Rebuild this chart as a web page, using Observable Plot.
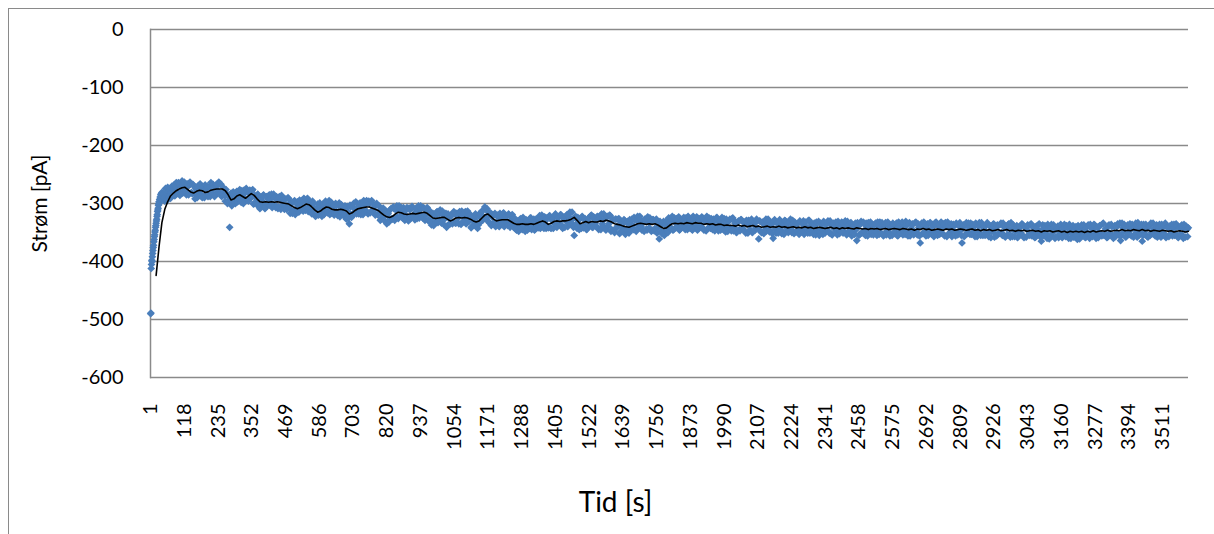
<!DOCTYPE html>
<html>
<head>
<meta charset="utf-8">
<script src="https://cdn.jsdelivr.net/npm/d3@7"></script>
<script src="https://cdn.jsdelivr.net/npm/@observablehq/plot@0.6"></script>
<style>
  html, body { margin: 0; padding: 0; background: #fff; overflow: hidden; }
  #wrap { position: relative; width: 1214px; height: 534px; }
  #border { position: absolute; left: 8px; top: 8px; width: 1400px; height: 700px;
            border-left: 1.5px solid #8a8a8a; border-top: 1.5px solid #8a8a8a; pointer-events: none; }
  #chart { position: absolute; left: 0; top: 0; }
  #chart g[aria-label="y-axis label"] { font-size: 21px; }
</style>
</head>
<body>
<div id="wrap">
  <div id="chart"></div>
  <div id="border"></div>
</div>
<script>
// Category labels on the time axis (seconds) and the current gridlines (pA)
const xTicks = [1, 118, 235, 352, 469, 586, 703, 820, 937, 1054, 1171, 1288, 1405, 1522, 1639,
  1756, 1873, 1990, 2107, 2224, 2341, 2458, 2575, 2692, 2809, 2926, 3043, 3160, 3277, 3394, 3511];
const yTicks = [0, -100, -200, -300, -400, -500, -600];
const xTitle = "Tid [s]";
const yTitle = "Strøm [pA]";

// Measured current, 1 s samples for t = 1 … 40 s (switch-on transient)
const rampCurrent = [
  -490, -489, -412, -405, -398, -400, -392, -386, -381, -376,
  -372, -366, -362, -357, -354, -349, -346, -341, -338, -334,
  -330, -327, -322, -319, -314, -311, -308, -303, -301, -297,
  -299, -293, -296, -289, -292, -285, -291, -283, -288, -281
];

// Measured current, 5 s samples from t = 45 s onward (one row = 100 s)
const current = [
  -283,-296,-282,-272,-287,-291,-270,-276,-287,-264,-280,-266,-282,-261,-275,-267,-285,-271,-283,-267,
  -283,-269,-292,-276,-270,-286,-276,-290,-271,-268,-283,-288,-271,-264,-282,-273,-286,-267,-279,-266,
  -267,-284,-279,-296,-283,-296,-341,-282,-299,-284,-300,-279,-291,-276,-298,-286,-277,-293,-279,-296,
  -277,-290,-276,-300,-290,-302,-286,-309,-292,-287,-299,-307,-288,-293,-303,-284,-301,-290,-307,-293,
  -306,-292,-286,-302,-310,-292,-303,-292,-317,-300,-313,-295,-309,-297,-315,-302,-295,-313,-296,-306,
  -291,-307,-301,-318,-300,-309,-321,-301,-319,-308,-322,-301,-312,-300,-316,-295,-309,-317,-304,-315,
  -304,-321,-299,-314,-307,-321,-304,-327,-314,-335,-306,-319,-300,-314,-318,-301,-305,-319,-301,-295,
  -311,-295,-318,-300,-314,-299,-307,-320,-300,-319,-312,-327,-313,-323,-312,-335,-317,-327,-309,-327,
  -309,-323,-304,-326,-312,-307,-325,-311,-320,-307,-330,-311,-323,-307,-325,-315,-326,-304,-319,-309,
  -325,-309,-320,-307,-329,-319,-337,-317,-325,-333,-314,-330,-311,-334,-319,-327,-317,-338,-325,-335,
  -321,-332,-316,-334,-322,-335,-317,-313,-331,-321,-335,-313,-331,-319,-340,-326,-333,-322,-343,-322,
  -332,-313,-323,-306,-327,-314,-333,-316,-323,-335,-317,-333,-320,-340,-326,-336,-316,-330,-322,-338,
  -320,-335,-319,-341,-331,-346,-330,-338,-326,-345,-332,-348,-329,-335,-343,-325,-340,-327,-344,-329,
  -342,-321,-335,-324,-343,-330,-325,-342,-321,-343,-326,-334,-318,-341,-324,-336,-320,-343,-327,-322,
  -319,-334,-315,-329,-336,-355,-322,-343,-329,-326,-343,-324,-339,-331,-344,-325,-336,-320,-341,-327,
  -339,-322,-345,-326,-318,-339,-327,-346,-322,-335,-321,-345,-328,-350,-327,-339,-326,-349,-336,-348,
  -329,-345,-331,-351,-335,-327,-345,-329,-348,-322,-337,-327,-346,-333,-327,-344,-323,-342,-332,-346,
  -328,-343,-327,-342,-361,-335,-352,-331,-346,-330,-350,-332,-343,-322,-345,-333,-326,-340,-346,-329,
  -339,-324,-345,-330,-322,-342,-332,-346,-327,-337,-323,-343,-329,-340,-325,-346,-331,-322,-342,-334,
  -326,-345,-330,-340,-324,-347,-329,-343,-335,-326,-349,-333,-343,-327,-347,-325,-341,-332,-349,-330,
  -347,-328,-343,-332,-351,-336,-329,-345,-327,-349,-334,-341,-330,-361,-331,-350,-335,-346,-327,-342,
  -330,-347,-336,-360,-328,-351,-334,-342,-331,-352,-337,-329,-348,-335,-345,-327,-350,-338,-332,-349,
  -335,-353,-332,-344,-330,-349,-340,-351,-329,-346,-335,-353,-338,-332,-348,-355,-334,-344,-331,-351,
  -346,-330,-351,-337,-354,-334,-340,-349,-331,-352,-340,-334,-349,-330,-354,-337,-346,-333,-351,-339,
  -334,-364,-338,-353,-331,-349,-335,-355,-341,-333,-348,-353,-337,-346,-334,-355,-340,-332,-351,-338,
  -353,-333,-347,-337,-356,-340,-334,-352,-342,-355,-332,-349,-336,-354,-341,-331,-350,-335,-356,-343,
  -336,-349,-332,-354,-341,-368,-334,-351,-339,-356,-335,-346,-333,-353,-340,-350,-332,-355,-337,-347,
  -351,-335,-356,-340,-332,-353,-343,-357,-336,-349,-334,-354,-339,-347,-368,-337,-355,-333,-352,-342,
  -334,-352,-341,-357,-336,-348,-333,-355,-339,-344,-355,-336,-351,-338,-359,-343,-335,-352,-356,-339,
  -351,-334,-355,-340,-358,-343,-336,-353,-333,-357,-343,-349,-338,-357,-340,-351,-336,-359,-342,-345,
  -338,-355,-335,-351,-341,-358,-344,-337,-353,-365,-337,-351,-340,-360,-343,-357,-336,-350,-341,-358,
  -344,-359,-338,-354,-346,-336,-357,-341,-360,-343,-352,-338,-357,-340,-362,-343,-351,-337,-356,-346,
  -358,-340,-352,-336,-355,-345,-337,-360,-342,-350,-338,-356,-334,-353,-343,-358,-337,-352,-340,-360,
  -338,-351,-335,-355,-364,-334,-349,-340,-357,-337,-353,-344,-336,-358,-341,-350,-333,-354,-342,-365,
  -336,-354,-343,-358,-339,-334,-352,-344,-356,-337,-350,-336,-358,-342,-354,-334,-356,-343,-339,-352,
  -356,-336,-351,-340,-359,-342,-339,-355,-336,-358,-345,-342
];

// Interleaved samples, 5 s apart from t = 47.5 s (halfway between the rows above)
const currentMid = [
  -290,-274,-295,-280,-275,-281,-284,-268,-272,-283,-264,-286,-271,-282,-263,-278,-266,-285,-263,-281,
  -267,-283,-274,-290,-281,-266,-285,-272,-290,-276,-271,-285,-288,-275,-267,-288,-271,-278,-263,-283,
  -288,-272,-286,-276,-300,-289,-288,-304,-280,-292,-281,-297,-285,-294,-278,-300,-282,-274,-293,-282,
  -289,-278,-301,-286,-299,-284,-306,-295,-301,-285,-309,-288,-302,-285,-292,-307,-284,-303,-288,-309,
  -288,-310,-295,-291,-304,-310,-290,-308,-299,-317,-297,-319,-301,-308,-294,-311,-308,-291,-312,-293,
  -314,-297,-313,-296,-312,-322,-309,-320,-299,-316,-302,-319,-296,-312,-304,-319,-298,-307,-320,-300,
  -317,-303,-323,-302,-317,-307,-318,-305,-325,-303,-324,-306,-318,-297,-311,-318,-299,-313,-319,-303,
  -301,-315,-296,-316,-295,-312,-317,-302,-319,-304,-329,-316,-308,-330,-316,-319,-332,-310,-326,-306,
  -329,-312,-324,-304,-322,-318,-307,-329,-311,-323,-308,-326,-305,-321,-328,-308,-314,-325,-304,-322,
  -307,-329,-316,-329,-312,-331,-318,-338,-322,-315,-333,-318,-329,-313,-336,-322,-341,-318,-335,-320,
  -335,-314,-334,-317,-325,-314,-336,-320,-330,-314,-334,-326,-320,-342,-324,-337,-318,-332,-337,-317,
  -319,-329,-310,-324,-309,-331,-320,-338,-319,-332,-340,-322,-334,-317,-336,-318,-340,-323,-332,-318,
  -341,-327,-337,-325,-344,-333,-348,-327,-342,-324,-339,-328,-346,-331,-325,-345,-333,-346,-327,-338,
  -326,-343,-320,-335,-323,-343,-339,-322,-342,-329,-343,-321,-336,-325,-333,-319,-338,-324,-341,-331,
  -340,-323,-335,-315,-341,-324,-335,-324,-345,-339,-322,-342,-326,-345,-330,-339,-321,-341,-323,-334,
  -329,-342,-322,-345,-335,-318,-343,-324,-339,-320,-348,-329,-346,-327,-342,-327,-352,-332,-342,-328,
  -353,-333,-343,-328,-346,-338,-324,-346,-329,-342,-322,-340,-332,-348,-329,-346,-332,-325,-348,-328,
  -347,-329,-351,-336,-331,-348,-335,-355,-337,-347,-325,-340,-329,-346,-325,-342,-334,-323,-344,-330,
  -327,-338,-325,-345,-337,-328,-344,-322,-340,-329,-346,-326,-336,-323,-343,-330,-347,-329,-325,-343,
  -339,-327,-347,-325,-342,-333,-346,-324,-345,-340,-327,-348,-330,-342,-326,-347,-334,-350,-332,-345,
  -328,-344,-333,-348,-329,-351,-336,-331,-350,-335,-346,-327,-343,-330,-349,-332,-352,-334,-347,-327,
  -349,-335,-352,-331,-344,-333,-351,-328,-346,-337,-353,-330,-342,-350,-332,-345,-329,-352,-336,-347,
  -345,-330,-349,-335,-353,-332,-343,-329,-351,-337,-349,-334,-354,-345,-331,-348,-337,-353,-333,-343,
  -334,-348,-330,-353,-338,-344,-332,-354,-336,-347,-332,-351,-340,-352,-331,-350,-334,-356,-338,-353,
  -345,-333,-355,-336,-351,-332,-348,-334,-356,-339,-332,-350,-354,-336,-348,-332,-353,-341,-333,-356,
  -338,-354,-332,-350,-341,-355,-336,-348,-334,-356,-339,-351,-332,-347,-353,-337,-356,-333,-349,-335,
  -354,-333,-349,-335,-356,-340,-352,-332,-350,-342,-355,-334,-347,-336,-357,-333,-351,-339,-353,-332,
  -341,-354,-333,-357,-338,-350,-335,-348,-339,-356,-336,-352,-333,-355,-342,-357,-337,-350,-334,-353,
  -353,-336,-348,-334,-357,-339,-352,-333,-355,-341,-351,-333,-357,-339,-348,-336,-358,-341,-337,-352,
  -336,-350,-334,-356,-341,-354,-335,-358,-343,-337,-357,-341,-359,-343,-353,-335,-356,-340,-358,-337,
  -353,-336,-356,-342,-359,-339,-350,-335,-358,-345,-355,-338,-352,-336,-361,-342,-356,-337,-360,-344,
  -339,-353,-336,-359,-342,-356,-338,-351,-336,-360,-342,-358,-345,-355,-338,-361,-341,-354,-337,-359,
  -351,-337,-360,-342,-357,-336,-353,-340,-359,-338,-353,-335,-355,-344,-359,-338,-351,-336,-357,-340,
  -357,-340,-353,-334,-355,-342,-336,-358,-339,-351,-335,-356,-343,-354,-334,-358,-341,-352,-336,-355,
  -349,-336,-357,-340,-355,-350,-334,-353,-338,-358,-342,-356,-336,-350,-337,-359,-341,-357,-353,-336,
  -343,-355,-335,-357,-341,-353,-337,-360,-345,-339,-357
];

// Moving-average trendline, one value every 10 s from t = 20 s (one row = 200 s)
const trendCurrent = [
  -424,-375,-333,-310,-297,-287,-282,-278,-275,-273,-272,-276,-280,-282,-279,-277,-278,-281,-280,-277,
  -276,-275,-275,-275,-278,-285,-294,-292,-287,-285,-288,-291,-287,-283,-286,-292,-297,-298,-297,-298,
  -297,-298,-297,-298,-299,-300,-301,-304,-307,-309,-307,-304,-301,-302,-306,-311,-315,-313,-309,-306,
  -307,-310,-311,-311,-310,-311,-313,-318,-316,-312,-309,-308,-307,-306,-306,-308,-310,-312,-316,-320,
  -323,-324,-322,-318,-315,-316,-318,-319,-318,-317,-318,-317,-316,-315,-317,-321,-325,-326,-325,-324,
  -324,-327,-330,-328,-325,-324,-325,-324,-325,-327,-330,-332,-330,-325,-320,-318,-322,-327,-330,-329,
  -328,-328,-328,-331,-334,-336,-336,-335,-336,-336,-335,-336,-334,-332,-330,-332,-336,-334,-331,-330,
  -331,-330,-330,-329,-327,-324,-329,-335,-333,-331,-333,-331,-332,-332,-330,-331,-329,-330,-332,-335,
  -336,-337,-339,-340,-341,-339,-337,-335,-334,-335,-336,-335,-336,-335,-337,-340,-343,-342,-338,-335,
  -334,-335,-334,-335,-333,-334,-335,-333,-334,-334,-336,-335,-336,-335,-337,-336,-336,-338,-337,-338,
  -338,-339,-337,-339,-338,-340,-339,-338,-340,-339,-341,-340,-339,-341,-340,-341,-339,-341,-340,-342,
  -341,-340,-342,-341,-342,-340,-342,-341,-343,-342,-341,-342,-343,-342,-341,-343,-342,-344,-342,-343,
  -342,-343,-344,-342,-343,-344,-343,-345,-343,-344,-343,-345,-344,-343,-345,-344,-343,-344,-345,-343,
  -344,-345,-344,-346,-344,-345,-343,-345,-344,-346,-345,-344,-345,-346,-344,-345,-344,-346,-345,-344,
  -345,-346,-345,-344,-346,-345,-347,-345,-346,-345,-347,-346,-345,-347,-346,-345,-347,-346,-348,-346,
  -347,-346,-348,-347,-346,-348,-347,-349,-347,-348,-347,-349,-348,-347,-349,-348,-350,-348,-349,-348,
  -349,-348,-350,-348,-349,-347,-349,-348,-347,-348,-346,-348,-347,-346,-347,-345,-347,-346,-347,-345,
  -346,-347,-345,-347,-346,-348,-346,-347,-348,-346,-347,-348,-347,-349,-348,-347,-348,-349,-348
];

const samples = [
  ...rampCurrent.map((v, i) => ({t: 1 + i, v})),
  ...current.flatMap((v, i) => {
    const row = [{t: 45 + 5 * i, v}];
    if (i < currentMid.length) row.push({t: 47.5 + 5 * i, v: currentMid[i]});
    return row;
  })
];
const trend = trendCurrent.map((v, i) => ({t: 20 + 10 * i, v}));

const gridColor = "#8a8a8a";
const fmt = d => String(d);

const chart = Plot.plot({
  width: 1214,
  height: 534,
  marginLeft: 150,
  marginRight: 26,
  marginTop: 29,
  marginBottom: 157,
  style: {fontFamily: "Lato, 'Liberation Sans', sans-serif", fontSize: "20px", color: "#000", background: "transparent", overflow: "visible"},
  x: {type: "linear", domain: [0.5, 3600.5]},
  y: {domain: [-600, 0]},
  marks: [
    Plot.ruleY(yTicks, {stroke: gridColor, strokeWidth: 1.5}),
    Plot.frame({anchor: "left", stroke: gridColor, strokeWidth: 1.5}),
    Plot.dot(samples, {x: "t", y: "v", symbol: "diamond2", r: 3.5, fill: "#4a7ebb"}),
    Plot.line(trend, {x: "t", y: "v", stroke: "#000", strokeWidth: 1.6}),
    Plot.axisY({ticks: yTicks, tickSize: 0, tickPadding: 27, tickFormat: fmt,
      label: yTitle, labelAnchor: "center", labelOffset: 118, labelArrow: "none", fontSize: 20}),
    Plot.axisX({ticks: xTicks, tickSize: 0, tickPadding: 26, tickRotate: -90, tickFormat: fmt,
      label: null, fontSize: 20}),
    // Time-axis title, centred under the whole chart area rather than the plot frame
    Plot.text([xTitle], {frameAnchor: "bottom", text: d => d, dy: 126, dx: -54,
      lineAnchor: "middle", fontSize: 28, fill: "#000"})
  ]
});
document.getElementById("chart").append(chart);
</script>
</body>
</html>
